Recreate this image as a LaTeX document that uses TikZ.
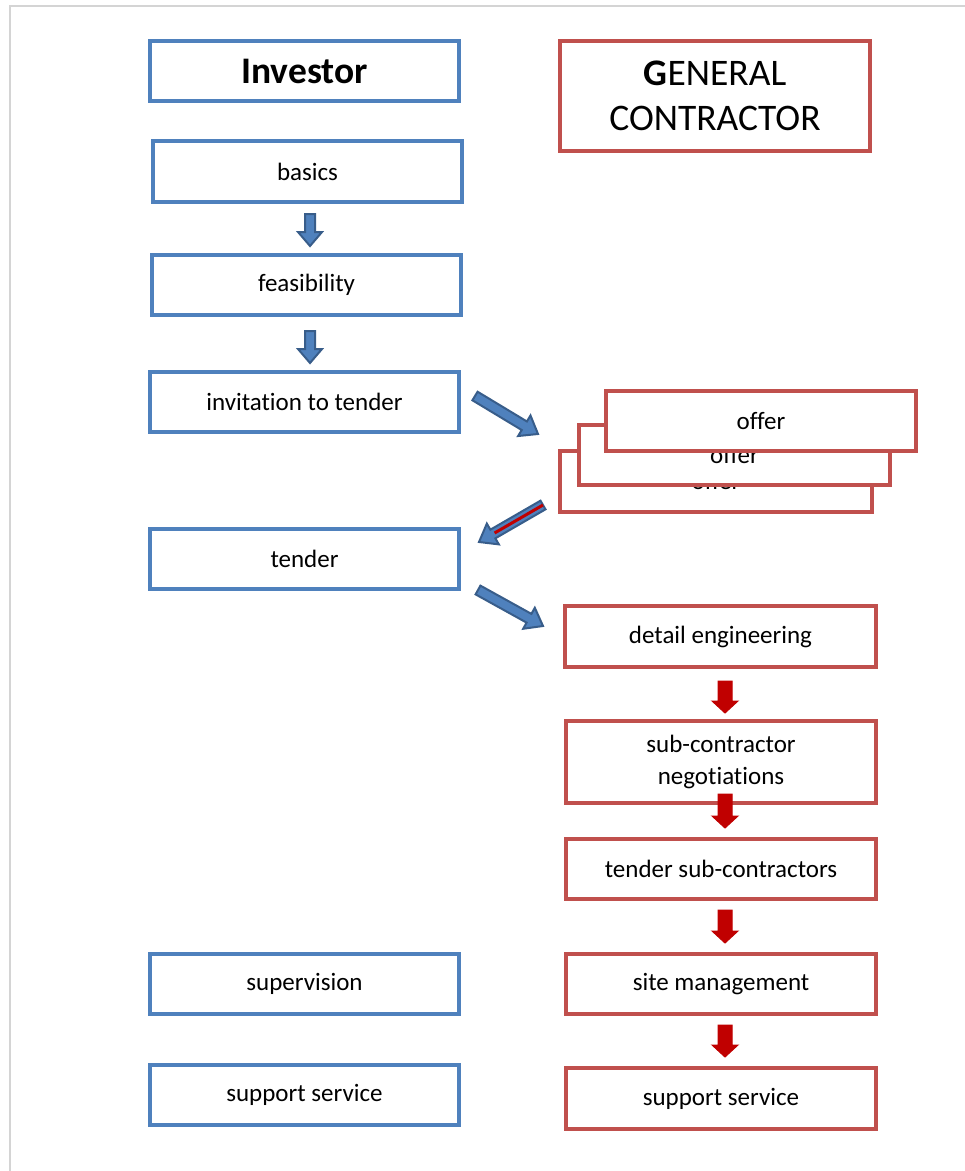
\documentclass[tikz,border=0pt]{standalone}
\usepackage{fontspec}
\setmainfont{Carlito}[Ligatures={NoCommon}]
\usetikzlibrary{calc}
\definecolor{boxblue}{HTML}{4F81BD}
\definecolor{boxred}{HTML}{C0504D}
\definecolor{arrdark}{HTML}{385D8A}
\definecolor{arrred}{HTML}{C00000}
\definecolor{framegray}{HTML}{D4D4D4}
\newcommand\blockarrow[6]{%
  \coordinate (bah) at ($(#3)!#6!(#2)$);
  \path[#1] ($(#2)!#4!90:(#3)$) -- ($(bah)!#4!90:(#3)$) -- ($(bah)!#5!90:(#3)$) -- (#3)
    -- ($(bah)!#5!-90:(#3)$) -- ($(bah)!#4!-90:(#3)$) -- ($(#2)!#4!-90:(#3)$) -- cycle;}
\begin{document}
\begin{tikzpicture}[x=1pt,y=-1pt,
  base/.style={line width=3.6pt, fill=white, inner sep=0pt, align=center,
    font=\fontsize{25}{32}\selectfont},
  inv/.style={base, draw=boxblue},
  gc/.style={base, draw=boxred},
  ttl/.style={font=\fontsize{37.5}{45}\selectfont},
  bluearr/.style={fill=boxblue, draw=arrdark, line width=2pt, line join=miter},
  redarr/.style={fill=arrred, draw=arrred, line width=1pt, line join=miter}]
\useasboundingbox (0,0) rectangle (965,1171);
\draw[framegray, line width=2pt] (10,1171) -- (10,6) -- (965,6);
% investor column
\node[inv, ttl, minimum width=309, minimum height=60] (investor) at (304.5,71) {\bfseries Investor};
\node[inv, minimum width=309, minimum height=61] (basics) at (307.5,171.5) {basics};
\node[inv, minimum width=309, minimum height=60] (feas) at (306.5,285) {feasibility};
\node[inv, minimum width=309, minimum height=60] (invit) at (304.5,402) {invitation to tender};
\node[inv, minimum width=309, minimum height=60] (tender) at (304.5,559) {tender};
\node[inv, minimum width=309, minimum height=60] (superv) at (304.5,984) {supervision};
\node[inv, minimum width=309, minimum height=60] (suppL) at (304.5,1095) {support service};
% general contractor column
\node[gc, ttl, minimum width=310, minimum height=110] (gencon) at (715,96) {{\bfseries G}ENERAL\\CONTRACTOR};
\node[gc, minimum width=312, minimum height=61] (offer3) at (716,481.5) {offer};
\node[gc, minimum width=311, minimum height=60] (offer2) at (734.5,455) {offer};
\node[gc, minimum width=310, minimum height=60] (offer1) at (761,421) {offer};
\node[gc, minimum width=311, minimum height=61] (detail) at (720.5,636.5) {detail engineering};
\node[gc, minimum width=310, minimum height=82] (subneg) at (721,762) {sub-contractor\\negotiations};
\node[gc, minimum width=310, minimum height=60] (tendsub) at (721,869) {tender sub-contractors};
\node[gc, minimum width=310, minimum height=60] (site) at (721,984) {site management};
\node[gc, minimum width=310, minimum height=61] (suppR) at (721,1098.5) {support service};
% arrow end points
\coordinate (a1s) at (310,214); \coordinate (a1e) at (310,246);
\coordinate (a2s) at (310,331); \coordinate (a2e) at (310,363);
\coordinate (d1s) at (475,396); \coordinate (d1e) at (538,434);
\coordinate (d2s) at (543,505); \coordinate (d2e) at (479,542);
\coordinate (d3s) at (478,590); \coordinate (d3e) at (543,626);
\coordinate (r1s) at (725,681); \coordinate (r1e) at (725,713);
\coordinate (r2s) at (725,794); \coordinate (r2e) at (725,828);
\coordinate (r3s) at (725,910); \coordinate (r3e) at (725,943);
\coordinate (r4s) at (725,1025); \coordinate (r4e) at (725,1057);
\blockarrow{bluearr}{a1s}{a1e}{5pt}{12pt}{14pt}
\blockarrow{bluearr}{a2s}{a2e}{5pt}{12pt}{14pt}
\blockarrow{bluearr}{d1s}{d1e}{5pt}{12pt}{16pt}
\blockarrow{bluearr}{d2s}{d2e}{5pt}{12pt}{16pt}
\draw[arrred, line width=3pt] (d2s) -- ($(d2e)!18pt!(d2s)$);
\blockarrow{bluearr}{d3s}{d3e}{5pt}{12pt}{16pt}
\blockarrow{redarr}{r1s}{r1e}{7pt}{13pt}{12pt}
\blockarrow{redarr}{r2s}{r2e}{7pt}{13pt}{12pt}
\blockarrow{redarr}{r3s}{r3e}{7pt}{13pt}{12pt}
\blockarrow{redarr}{r4s}{r4e}{7pt}{13pt}{12pt}
\end{tikzpicture}
\end{document}
